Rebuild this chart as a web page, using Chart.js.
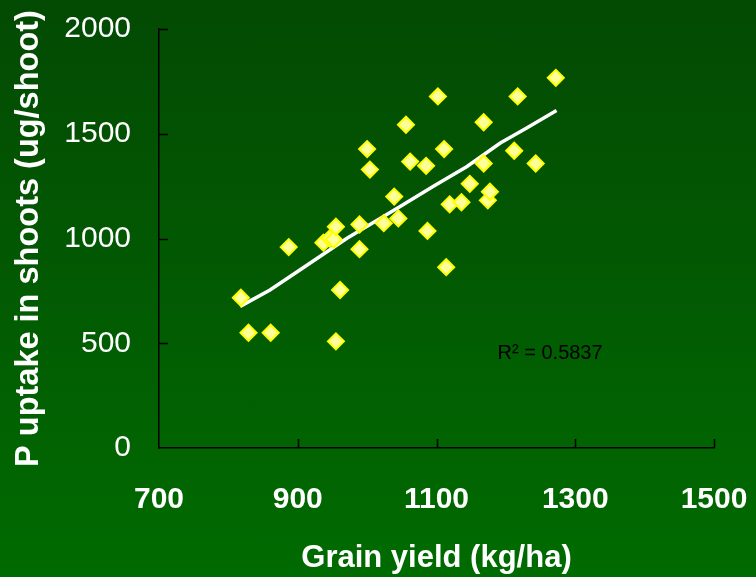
<!DOCTYPE html>
<html>
<head>
<meta charset="utf-8">
<script src="https://cdn.jsdelivr.net/npm/chart.js@4/dist/chart.umd.min.js"></script>
<style>
  html, body { margin: 0; padding: 0; }
  body {
    width: 756px; height: 577px; overflow: hidden;
    background: linear-gradient(to bottom, #034a03 0%, #025a02 50%, #006b00 100%);
  }
  #wrap { width: 756px; height: 577px; }
</style>
</head>
<body>
<div id="wrap"><canvas id="chart"></canvas></div>
<script>
// grain yield (kg/ha) vs P uptake (ug/shoot)
const grainYield = [818, 829, 861, 887, 937, 946, 952, 955, 961, 955,
  989, 989, 1000, 1004, 1024, 1039, 1045, 1056, 1062, 1085,
  1087, 1102, 1111, 1114, 1119, 1136, 1148, 1168, 1168, 1174,
  1177, 1212, 1217, 1243, 1272];
const pUptake = [717, 550, 550, 959, 980, 1000, 995, 1056, 754, 509,
  1067, 949, 1427, 1329, 1073, 1200, 1096, 1543, 1367, 1347,
  1036, 1678, 1427, 863, 1163, 1173, 1261, 1555, 1358, 1182,
  1223, 1419, 1678, 1358, 1767];

// trend line
const trendX = [817, 860, 903, 971, 1047, 1095, 1144, 1192, 1230, 1273];
const trendY = [676, 754, 850, 1001, 1152, 1248, 1344, 1456, 1527, 1611];

const xTicks = [700, 900, 1100, 1300, 1500];
const yTicks = [0, 500, 1000, 1500, 2000];
const r2Label = "R\u00b2 = 0.5837";

const FONT = "'Liberation Sans', Arial, sans-serif";

// ticks pointing into the plot area + R2 text
const innerTicks = {
  id: "innerTicks",
  afterDraw(chart) {
    const ctx = chart.ctx;
    const xs = chart.scales.x, ys = chart.scales.y;
    ctx.save();
    ctx.strokeStyle = "#000";
    ctx.lineWidth = 1.5;
    xTicks.slice(1).forEach(v => {
      const px = Math.round(xs.getPixelForValue(v)) + 0.5;
      ctx.beginPath();
      ctx.moveTo(px, ys.bottom);
      ctx.lineTo(px, ys.bottom - 9);
      ctx.stroke();
    });
    yTicks.slice(1).forEach(v => {
      const py = Math.round(ys.getPixelForValue(v)) + 0.5;
      ctx.beginPath();
      ctx.moveTo(xs.left, py);
      ctx.lineTo(xs.left + 9, py);
      ctx.stroke();
    });
    ctx.fillStyle = "#000";
    ctx.font = "20px " + FONT;
    ctx.textAlign = "left";
    ctx.textBaseline = "middle";
    ctx.fillText(r2Label, xs.getPixelForValue(1188), ys.getPixelForValue(450));
    ctx.restore();
  }
};

new Chart(document.getElementById("chart"), {
  type: "scatter",
  data: {
    datasets: [
      {
        label: "data",
        data: grainYield.map((x, i) => ({ x, y: pUptake[i] })),
        pointStyle: "rectRot",
        pointRadius: 8,
        pointBackgroundColor: "#ffff99",
        pointBorderColor: "#ffff00",
        pointBorderWidth: 2,
        order: 1
      },
      {
        label: "trend",
        type: "line",
        data: trendX.map((x, i) => ({ x, y: trendY[i] })),
        borderColor: "#ffffff",
        borderWidth: 3.5,
        pointRadius: 0,
        tension: 0,
        order: 2
      }
    ]
  },
  plugins: [innerTicks],
  options: {
    responsive: true,
    maintainAspectRatio: false,
    animation: false,
    layout: { padding: { top: 29, right: 42, bottom: 0, left: 0 } },
    plugins: { legend: { display: false }, tooltip: { enabled: false } },
    scales: {
      x: {
        type: "linear",
        min: 700, max: 1500,
        afterBuildTicks: s => { s.ticks = xTicks.map(v => ({ value: v })); },
        afterFit: s => {
          s.height = 577 - 448;
          s.paddingLeft = 0; s.paddingRight = 0;
        },
        border: { color: "#000", width: 1.5 },
        grid: { display: false, drawTicks: false },
        ticks: {
          color: "#fff",
          padding: 34,
          callback: v => String(v),
          font: { family: FONT, size: 30, weight: "bold" }
        },
        title: {
          display: true,
          text: "Grain yield (kg/ha)",
          color: "#fff",
          padding: { top: 0, bottom: 0 },
          font: { family: FONT, size: 31, weight: "bold" }
        }
      },
      y: {
        min: 0, max: 2000,
        afterBuildTicks: s => { s.ticks = yTicks.map(v => ({ value: v })); },
        afterFit: s => {
          s.width = 159;
          s.paddingTop = 0; s.paddingBottom = 0;
        },
        border: { color: "#000", width: 1.5 },
        grid: { display: false, drawTicks: false },
        ticks: {
          color: "#fff",
          padding: 28,
          callback: v => String(v),
          font: { family: FONT, size: 30 }
        },
        title: {
          display: true,
          text: "P uptake in shoots (ug/shoot)",
          color: "#fff",
          padding: { top: 10, bottom: 0 },
          font: { family: FONT, size: 32.5, weight: "bold" }
        }
      }
    }
  }
});
</script>
</body>
</html>
